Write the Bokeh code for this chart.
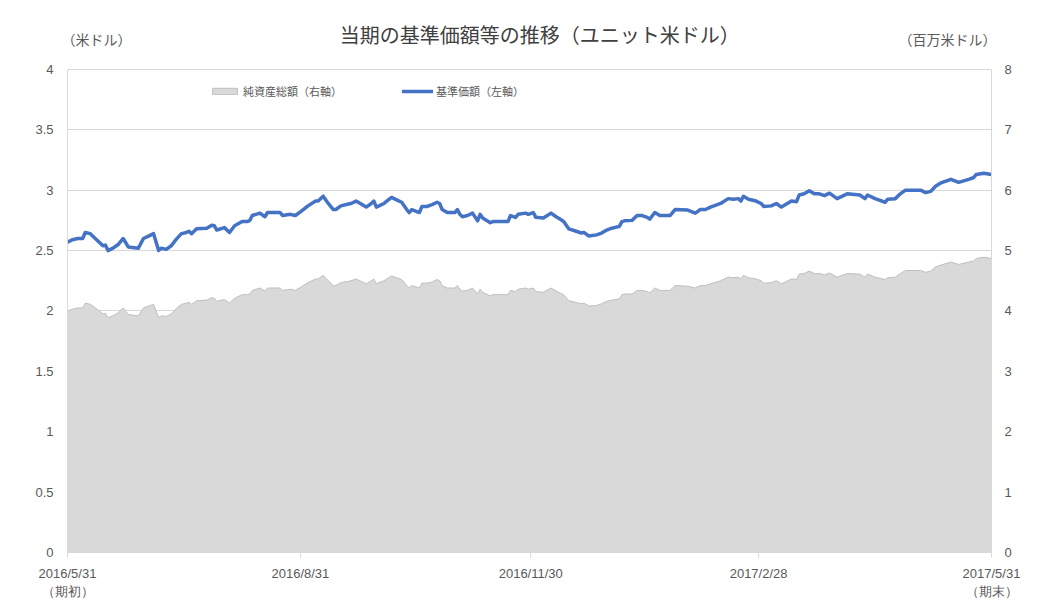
import numpy as np
import pandas as pd
from bokeh.plotting import figure
from bokeh.models import (Range1d, LinearAxis, FixedTicker, Label, Legend, LegendItem,
                          ColumnDataSource, CustomJSTickFormatter)
from bokeh.embed import file_html
from bokeh.resources import INLINE

# ---------------- data ----------------
dates = [
    "2016-05-31","2016-06-02","2016-06-04","2016-06-06","2016-06-07","2016-06-09","2016-06-12","2016-06-14","2016-06-15","2016-06-16","2016-06-18","2016-06-20","2016-06-22","2016-06-24","2016-06-28","2016-06-30",
    "2016-07-02","2016-07-04","2016-07-06","2016-07-07","2016-07-09","2016-07-11","2016-07-13","2016-07-15","2016-07-17","2016-07-18","2016-07-19","2016-07-21","2016-07-25","2016-07-27","2016-07-28","2016-07-29",
    "2016-08-01","2016-08-03","2016-08-05","2016-08-08","2016-08-10","2016-08-11","2016-08-12","2016-08-15","2016-08-17","2016-08-18","2016-08-23","2016-08-24","2016-08-27","2016-08-29","2016-08-31",
    "2016-09-03","2016-09-06","2016-09-07","2016-09-09","2016-09-11","2016-09-13","2016-09-14","2016-09-16","2016-09-19","2016-09-20","2016-09-22","2016-09-24","2016-09-26","2016-09-28","2016-09-29","2016-09-30",
    "2016-10-03","2016-10-06","2016-10-08","2016-10-10","2016-10-12","2016-10-13","2016-10-14","2016-10-17","2016-10-18","2016-10-20","2016-10-22","2016-10-24","2016-10-25","2016-10-26","2016-10-28","2016-10-31",
    "2016-11-01","2016-11-02","2016-11-03","2016-11-05","2016-11-07","2016-11-09","2016-11-10","2016-11-11","2016-11-14","2016-11-15","2016-11-17","2016-11-21","2016-11-22","2016-11-24","2016-11-25","2016-11-28","2016-11-29",
    "2016-12-01","2016-12-02","2016-12-05","2016-12-08","2016-12-10","2016-12-12","2016-12-13","2016-12-15","2016-12-18","2016-12-20","2016-12-21","2016-12-23","2016-12-26","2016-12-28","2016-12-30",
    "2017-01-01","2017-01-04","2017-01-05","2017-01-06","2017-01-09","2017-01-11","2017-01-13","2017-01-15","2017-01-16","2017-01-18","2017-01-20","2017-01-24","2017-01-26","2017-01-31",
    "2017-02-03","2017-02-05","2017-02-07","2017-02-09","2017-02-13","2017-02-16","2017-02-18","2017-02-20","2017-02-21","2017-02-22","2017-02-24","2017-02-27",
    "2017-03-01","2017-03-02","2017-03-05","2017-03-07","2017-03-09","2017-03-11","2017-03-13","2017-03-15","2017-03-16","2017-03-18","2017-03-20","2017-03-22","2017-03-24","2017-03-26","2017-03-28","2017-03-31",
    "2017-04-04","2017-04-09","2017-04-11","2017-04-12","2017-04-15","2017-04-19","2017-04-20","2017-04-23","2017-04-25","2017-04-27",
    "2017-05-03","2017-05-05","2017-05-07","2017-05-09","2017-05-11","2017-05-15","2017-05-18","2017-05-22","2017-05-24","2017-05-25","2017-05-28","2017-05-31",
]

# 基準価額（米ドル, 左軸）
nav = [
    2.57,2.59,2.60,2.60,2.65,2.64,2.58,2.54,2.545,2.50,2.52,2.55,2.60,2.53,2.52,2.60,
    2.62,2.64,2.50,2.52,2.51,2.54,2.595,2.64,2.65,2.66,2.64,2.68,2.685,2.71,2.705,2.67,
    2.69,2.65,2.705,2.74,2.74,2.75,2.79,2.81,2.78,2.815,2.815,2.79,2.80,2.79,2.82,
    2.87,2.91,2.91,2.95,2.89,2.84,2.84,2.87,2.885,2.89,2.91,2.885,2.86,2.89,2.91,2.86,
    2.89,2.94,2.92,2.90,2.84,2.815,2.84,2.815,2.865,2.865,2.88,2.90,2.89,2.84,2.815,2.815,
    2.84,2.80,2.78,2.79,2.81,2.746,2.80,2.77,2.73,2.74,2.74,2.74,2.79,2.775,2.80,2.81,2.80,
    2.815,2.775,2.77,2.81,2.78,2.755,2.74,2.68,2.66,2.645,2.65,2.62,2.63,2.645,2.67,
    2.685,2.70,2.74,2.746,2.75,2.79,2.79,2.775,2.76,2.815,2.79,2.79,2.84,2.835,
    2.81,2.84,2.84,2.86,2.89,2.93,2.925,2.93,2.91,2.95,2.925,2.91,
    2.89,2.865,2.87,2.89,2.86,2.885,2.91,2.905,2.96,2.97,2.995,2.97,2.97,2.955,2.975,2.93,
    2.97,2.96,2.93,2.96,2.93,2.90,2.925,2.93,2.97,3.00,
    3.00,2.98,2.99,3.035,3.06,3.09,3.065,3.09,3.105,3.13,3.14,3.13,
]

# 純資産総額（百万米ドル, 右軸）
assets = [
    4.00,4.03,4.05,4.05,4.13,4.11,4.02,3.95,3.96,3.89,3.92,3.97,4.05,3.94,3.92,4.05,
    4.08,4.11,3.89,3.92,3.91,3.95,4.04,4.11,4.13,4.14,4.11,4.17,4.18,4.22,4.21,4.16,
    4.19,4.13,4.21,4.27,4.27,4.28,4.34,4.38,4.33,4.38,4.38,4.34,4.36,4.34,4.39,
    4.47,4.53,4.53,4.59,4.50,4.42,4.42,4.47,4.49,4.50,4.53,4.49,4.45,4.50,4.53,4.45,
    4.50,4.58,4.55,4.52,4.42,4.38,4.42,4.38,4.46,4.46,4.48,4.52,4.50,4.42,4.38,4.38,
    4.42,4.36,4.33,4.34,4.38,4.28,4.36,4.31,4.25,4.27,4.27,4.27,4.34,4.32,4.36,4.38,4.36,
    4.38,4.32,4.31,4.38,4.33,4.29,4.27,4.17,4.14,4.12,4.13,4.08,4.09,4.12,4.16,
    4.18,4.20,4.27,4.28,4.28,4.34,4.34,4.32,4.30,4.38,4.34,4.34,4.42,4.41,
    4.38,4.42,4.42,4.45,4.50,4.56,4.55,4.56,4.53,4.59,4.55,4.53,
    4.50,4.46,4.47,4.50,4.45,4.49,4.53,4.52,4.61,4.62,4.66,4.62,4.62,4.60,4.63,4.56,
    4.62,4.61,4.56,4.61,4.56,4.52,4.55,4.56,4.62,4.67,
    4.67,4.64,4.66,4.73,4.76,4.81,4.77,4.81,4.83,4.87,4.89,4.87,
]

tick_dates = ["2016-05-31", "2016-08-31", "2016-11-30", "2017-02-28", "2017-05-31"]
tick_labels = ["2016/5/31\n（期初）", "2016/8/31", "2016/11/30", "2017/2/28", "2017/5/31\n（期末）"]
left_ticks = [0, 0.5, 1, 1.5, 2, 2.5, 3, 3.5, 4]
right_ticks = [0, 1, 2, 3, 4, 5, 6, 7, 8]
left_max = 4
right_max = 8

title_text = "当期の基準価額等の推移（ユニット米ドル）"
left_unit = "（米ドル）"
right_unit = "（百万米ドル）"
legend_assets = "純資産総額（右軸）"
legend_nav = "基準価額（左軸）"

# ---------------- styling ----------------
JP = "Noto Sans CJK JP"
NUM = "Liberation Sans"
TXT = "#595959"
GRID = "#d9d9d9"

dt = pd.to_datetime(dates)
t0 = pd.Timestamp(tick_dates[0])
t1 = pd.Timestamp(tick_dates[-1])
tick_ms = [pd.Timestamp(d).value // 10**6 for d in tick_dates]

# frame extends above the value range so that the header text lives inside it
PLOT_H = 484           # pixels spanned by 0..4
FRAME_H = 534          # frame height incl. header space
head = FRAME_H / PLOT_H
p = figure(width=1051, height=601, x_axis_type="datetime",
           x_range=Range1d(t0, t1), y_range=Range1d(0, left_max * head),
           output_backend="svg", toolbar_location=None,
           min_border_left=67, min_border_right=60, min_border_top=19, min_border_bottom=48)
p.extra_y_ranges = {"right": Range1d(0, right_max * head)}
p.outline_line_color = None
p.background_fill_color = "white"
p.border_fill_color = "white"

# area (net assets, right axis)
px = np.concatenate([[dt.values[0]], dt.values, [dt.values[-1]]])
py = [0] + assets + [0]
area = p.patch(px, py, y_range_name="right", fill_color="#d9d9d9",
               line_color="#bfbfbf", line_width=1)

# NAV line
src = ColumnDataSource(dict(x=dt, y=nav))
ln = p.line("x", "y", source=src, line_color="#4472C4", line_width=3.5,
            line_join="round", line_cap="round")

# axes
xa = p.xaxis[0]
xa.ticker = FixedTicker(ticks=tick_ms)
xa.major_label_overrides = {int(m): lab for m, lab in zip(tick_ms, tick_labels)}
xa.axis_line_color = GRID
xa.major_tick_line_color = GRID
xa.major_tick_out = 5
xa.major_tick_in = 0
xa.minor_tick_line_color = None
xa.major_label_standoff = 8
xa.major_label_text_font = NUM
xa.major_label_text_font_size = "13px"
xa.major_label_text_color = TXT

ya = p.yaxis[0]
ya.ticker = FixedTicker(ticks=left_ticks)
ya.bounds = (0, left_max)
ya.formatter = CustomJSTickFormatter(code="return tick.toString();")
ya.axis_line_color = GRID
ya.major_tick_line_color = None
ya.minor_tick_line_color = None
ya.major_label_standoff = 8
ya.major_label_text_font = NUM
ya.major_label_text_font_size = "13px"
ya.major_label_text_color = TXT

ra = LinearAxis(y_range_name="right", ticker=FixedTicker(ticks=right_ticks), bounds=(0, right_max))
ra.formatter = CustomJSTickFormatter(code="return tick.toString();")
ra.axis_line_color = GRID
ra.major_tick_line_color = None
ra.minor_tick_line_color = None
ra.major_label_standoff = 7
ra.major_label_text_font = NUM
ra.major_label_text_font_size = "13px"
ra.major_label_text_color = TXT
p.add_layout(ra, "right")

p.xgrid.visible = False
p.ygrid.ticker = FixedTicker(ticks=left_ticks)
p.ygrid.grid_line_color = GRID
p.ygrid.grid_line_width = 1

# legend
legend = Legend(items=[LegendItem(label=legend_assets, renderers=[area]),
                       LegendItem(label=legend_nav, renderers=[ln])],
                orientation="horizontal", location=(142, 453),
                padding=0, margin=0, spacing=60,
                glyph_width=31, glyph_height=8, label_standoff=3,
                label_text_font=JP, label_text_font_size="11px",
                label_text_color=TXT, label_height=14,
                background_fill_alpha=0, border_line_color=None)
p.add_layout(legend)

# title & unit labels (inside the extended frame, above the value range)
mid = t0 + (t1 - t0) / 2 + pd.Timedelta(days=4)
p.add_layout(Label(x=mid, y=4.289, text=title_text,
                   text_align="center", text_baseline="middle", text_font=JP,
                   text_font_size="20px", text_color="#404040"))
p.add_layout(Label(x=t0 - pd.Timedelta(hours=56), y=4.248, text=left_unit,
                   text_align="left", text_baseline="middle", text_font=JP,
                   text_font_size="14px", text_color=TXT))
p.add_layout(Label(x=t1 + pd.Timedelta(days=2), y=4.248, text=right_unit,
                   text_align="right", text_baseline="middle", text_font=JP,
                   text_font_size="14px", text_color=TXT))

open("out.html", "w").write(file_html(p, INLINE))
